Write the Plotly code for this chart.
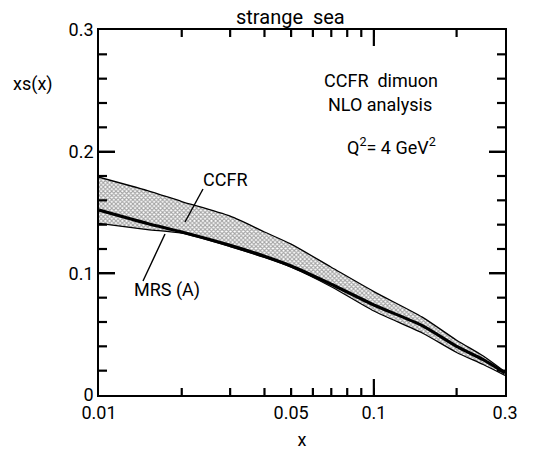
import plotly.graph_objects as go
import math

# ---- data ----
x_vals = [0.01, 0.015, 0.02, 0.03, 0.04, 0.05, 0.07, 0.1, 0.15, 0.2, 0.25, 0.3]
ccfr_upper = [0.179, 0.168, 0.159, 0.147, 0.134, 0.124, 0.105, 0.085, 0.064, 0.045, 0.032, 0.019]
ccfr_lower = [0.141, 0.136, 0.133, 0.122, 0.113, 0.105, 0.089, 0.069, 0.051, 0.035, 0.025, 0.016]
mrs_a = [0.152, 0.141, 0.134, 0.123, 0.114, 0.106, 0.091, 0.074, 0.057, 0.040, 0.029, 0.018]

x_label_vals = [0.01, 0.05, 0.1, 0.3]
x_label_text = ["0.01", "0.05", "0.1", "0.3"]
x_short_ticks = [0.02, 0.03, 0.04, 0.05, 0.06, 0.07, 0.08, 0.09, 0.2]
x_long_ticks = [0.1]
y_label_vals = [0, 0.1, 0.2, 0.3]
y_label_text = ["0", "0.1", "0.2", "0.3"]
y_short_ticks = [0.02, 0.04, 0.06, 0.08, 0.12, 0.14, 0.16, 0.18, 0.22, 0.24, 0.26, 0.28]
y_long_ticks = [0.1, 0.2]

X_MIN, X_MAX = 0.01, 0.3
Y_MIN, Y_MAX = 0.0, 0.3

FONT = "Roboto, Liberation Sans, Arial, sans-serif"

L, R, T, B = 99, 43, 30, 55
W, H = 548, 450
pw, ph = W - L - R, H - T - B
def px(xp):
    return (xp - L) / pw
def py(yp):
    return (H - B - yp) / ph

xr = [math.log10(X_MIN), math.log10(X_MAX)]

fig = go.Figure()
fig.add_trace(go.Scatter(x=x_vals, y=ccfr_lower, mode="lines",
                         line=dict(color="black", width=1.2, shape="spline", smoothing=0.7),
                         hoverinfo="skip", showlegend=False))
fig.add_trace(go.Scatter(x=x_vals, y=ccfr_upper, mode="lines", fill="tonexty",
                         fillcolor="rgba(0,0,0,0)",
                         fillpattern=dict(shape="x", size=3, solidity=0.6,
                                          fgcolor="#4a4a4a", bgcolor="white"),
                         line=dict(color="black", width=1.3, shape="spline", smoothing=0.7),
                         hoverinfo="skip", showlegend=False))
fig.add_trace(go.Scatter(x=x_vals, y=mrs_a, mode="lines",
                         line=dict(color="black", width=3.2, shape="spline", smoothing=0.7),
                         hoverinfo="skip", showlegend=False))

# tick marks inside the frame, drawn as line segments in axis units
def ylen(pix):
    return pix / ph * (Y_MAX - Y_MIN)
def xmul(pix):
    return 10 ** (pix / pw * (xr[1] - xr[0]))

tx, ty = [], []
for vals, ln in [(x_short_ticks, 7), (x_long_ticks, 16)]:
    for v in vals:
        tx += [v, v, None, v, v, None]
        ty += [Y_MIN, Y_MIN + ylen(ln), None, Y_MAX, Y_MAX - ylen(ln), None]
for vals, ln in [(y_short_ticks, 8), (y_long_ticks, 16)]:
    for v in vals:
        tx += [X_MIN, X_MIN * xmul(ln), None, X_MAX, X_MAX / xmul(ln), None]
        ty += [v, v, None, v, v, None]
fig.add_trace(go.Scatter(x=tx, y=ty, mode="lines", connectgaps=False,
                         line=dict(color="black", width=2.2),
                         hoverinfo="skip", showlegend=False))

fig.update_layout(
    width=W, height=H, margin=dict(l=L, r=R, t=T, b=B),
    paper_bgcolor="white", plot_bgcolor="white",
    font=dict(family=FONT, size=18, color="black"),
    xaxis=dict(type="log", range=xr, showgrid=False, zeroline=False, automargin=False,
               showline=True, linecolor="black", linewidth=1.8, mirror="allticks",
               ticks="inside", ticklen=7, tickwidth=2, tickcolor="black",
               tickmode="array", tickvals=x_label_vals, ticktext=x_label_text,
               tickfont=dict(size=18),
               title=dict(text="x", font=dict(size=18), standoff=12)),
    yaxis=dict(range=[Y_MIN, Y_MAX], showgrid=False, zeroline=False, showline=True,
               automargin=False, linecolor="black", linewidth=1.8, mirror="allticks",
               ticks="inside", ticklen=16, tickwidth=2, tickcolor="black",
               tickmode="array", tickvals=y_label_vals, ticktext=y_label_text,
               tickfont=dict(size=18)),
)

ann = [
    dict(text="strange  sea", x=px(290), y=py(17), size=20),
    dict(text="xs(x)", x=px(33), y=py(84), size=18),
    dict(text="CCFR  dimuon", x=px(381), y=py(80), size=18),
    dict(text="NLO analysis", x=px(380), y=py(104), size=18),
    dict(text="Q<sup>2</sup>= 4 GeV<sup>2</sup>", x=px(391), y=py(146), size=18),
    dict(text="CCFR", x=px(225), y=py(179), size=18),
    dict(text="MRS (A)", x=px(167), y=py(290), size=18),
]
for a in ann:
    fig.add_annotation(xref="paper", yref="paper", x=a["x"], y=a["y"],
                       text=a["text"], showarrow=False,
                       font=dict(family=FONT, size=a["size"], color="black"),
                       xanchor="center", yanchor="middle")

# pointer lines from the labels
for (x0, y0, x1, y1) in [(203, 189, 185, 222), (143, 281, 165, 234)]:
    fig.add_shape(type="line", xref="paper", yref="paper",
                  x0=px(x0), y0=py(y0), x1=px(x1), y1=py(y1),
                  line=dict(color="black", width=1.4))

fig.write_html("out.html")
